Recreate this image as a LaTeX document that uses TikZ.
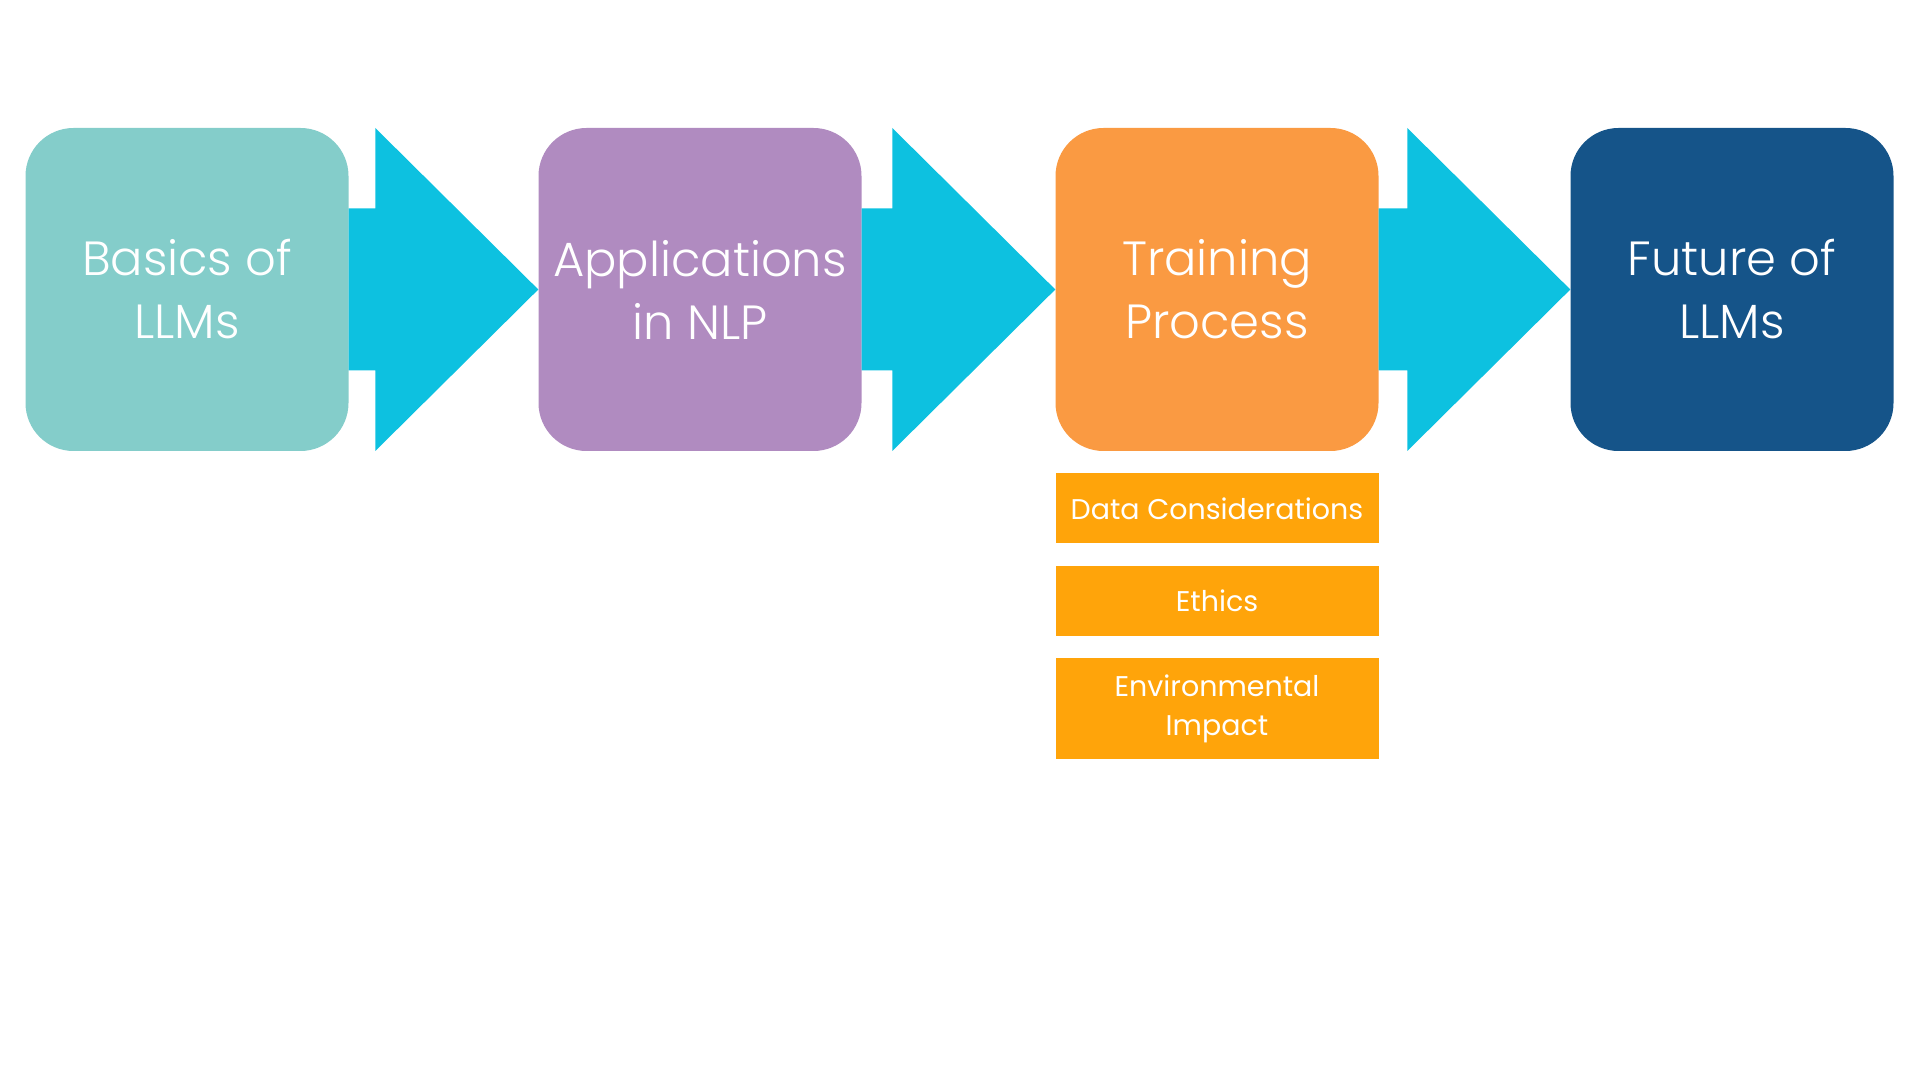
\documentclass[tikz,border=0pt]{standalone}
\usepackage{fontspec}
\setmainfont{Poppins}[UprightFont={* Light}]
\newfontfamily\itemfont{Poppins}
\usepackage{tikz}
\usepackage{xcolor}
\usetikzlibrary{positioning}
\definecolor{tealbox}{HTML}{84CDCA}
\definecolor{purplebox}{HTML}{B08BC0}
\definecolor{orangebox}{HTML}{FA9A42}
\definecolor{navybox}{HTML}{155489}
\definecolor{flowcyan}{HTML}{0DC1E0}
\definecolor{itemorange}{HTML}{FFA40A}
\tikzset{stage/.style={fill=#1,rounded corners=48pt,minimum width=323pt,minimum height=323pt,
   inner sep=0pt,text=white,align=center,font=\fontsize{48}{63}\selectfont},
 item/.style={fill=itemorange,minimum width=323pt,minimum height=#1,inner sep=0pt,
   text=white,align=center,font=\itemfont\fontsize{28.5}{39}\selectfont},
 item/.default=70pt,
 flow/.style={fill=flowcyan},
 }

\begin{document}
\begin{tikzpicture}[x=1pt,y=1pt]
        \useasboundingbox (0,0) rectangle (1920,1080);
        % stages
        \node[stage=tealbox] (basics) at (187,790.5) {Basics of\\LLMs};
        \node[stage=purplebox] (apps) at (700,790.5) {Applications\\in NLP};
        \node[stage=orangebox] (train) at (1217,790.5) {Training\\Process};
        \node[stage=navybox] (future) at (1732,790.5) {Future of\\LLMs};
        % block arrows between stages
        \foreach \a/\b in {basics/apps,apps/train,train/future}
            \fill[flow] ([yshift=81pt]\a.east) -- ([xshift=-163pt,yshift=81pt]\b.west)
                -- ([xshift=-163pt,yshift=161.5pt]\b.west) -- (\b.west)
                -- ([xshift=-163pt,yshift=-161.5pt]\b.west) -- ([xshift=-163pt,yshift=-81pt]\b.west)
                -- ([yshift=-81pt]\a.east) -- cycle;
        % items under training
        \node[item, below=22pt of train] (data) {Data Considerations};
        \node[item, below=22pt of data] (ethics) {Ethics};
        \node[item=101pt, below=22pt of ethics] (env) {Environmental\\Impact};
    \end{tikzpicture}
\end{document}
